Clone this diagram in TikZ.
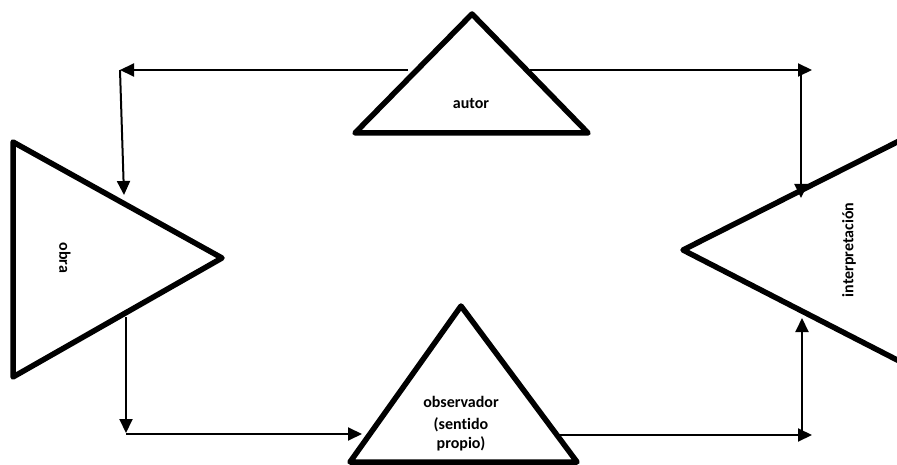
\documentclass[tikz,border=0pt]{standalone}
\usepackage{fontspec}
\setmainfont{Carlito}[Ligatures=NoCommon]
\usetikzlibrary{calc,arrows.meta}

\begin{document}
\begin{tikzpicture}[x=1pt,y=-1pt]
        % Looks of the triangles, the arrows and the labels
        \tikzset{
            tri/.style={line width=5.5pt, line join=round, line cap=round},
            conn/.style={line width=2pt, -{Triangle[length=14pt,width=13pt]}},
            lbl/.style={font=\fontsize{16}{19}\selectfont\bfseries, align=center},
        }
        \useasboundingbox (0,0) rectangle (897,465);

        % Corners of the four triangles
        \begin{scope}
            % autor
            \coordinate (A1) at (472, 14);
            \coordinate (A2) at (355, 133);
            \coordinate (A3) at (588, 133);
            % obra
            \coordinate (O1) at (13, 142);
            \coordinate (O2) at (13, 377);
            \coordinate (O3) at (222, 258);
            % observador
            \coordinate (S1) at (461, 306);
            \coordinate (S2) at (350, 462);
            \coordinate (S3) at (577, 462);
            % interpretacion, cut by the right border
            \coordinate (I1) at (683, 250);
            \coordinate (I2) at (905, 138);
            \coordinate (I3) at (905, 364);

            % Ends and corners of the connectors
            \coordinate (P1) at (408, 70);
            \coordinate (P2) at (120, 70);
            \coordinate (P3) at (124, 195);
            \coordinate (P4) at (530, 70);
            \coordinate (P5) at (812, 70);
            \coordinate (P6) at (801, 71);
            \coordinate (P7) at (801, 198);

            \coordinate (Q1) at (126, 317);
            \coordinate (Q2) at (126, 433);
            \coordinate (Q3) at (126, 434);
            \coordinate (Q4) at (362, 434);
            \coordinate (Q5) at (557, 435);
            \coordinate (Q6) at (812, 435);
            \coordinate (Q7) at (802, 435);
            \coordinate (Q8) at (802, 318);
        \end{scope}

        \begin{scope}[tri]
            \draw (A1) -- (A2) -- (A3) -- cycle;
            \draw (O1) -- (O2) -- (O3) -- cycle;
            \draw (S1) -- (S2) -- (S3) -- cycle;
            \draw (I2) -- (I1) -- (I3);
        \end{scope}

        \begin{scope}[conn]
            \draw (P1) -- (P2);
            \draw (P2) -- (P3);
            \draw (P4) -- (P5);
            \draw (P6) -- (P7);

            \draw (Q1) -- (Q2);
            \draw (Q3) -- (Q4);
            \draw (Q5) -- (Q6);
            \draw (Q7) -- (Q8);
        \end{scope}

        \node[lbl] (autor) at (471, 104) {autor};
        \node[lbl, rotate=-90] (obra) at (65, 258) {obra};
        \node[lbl, rotate=90] (interp) at (849, 250) {interpretación};
        \node[lbl] (obs) at (461, 424) {observador\\[3pt](sentido\\propio)};

\end{tikzpicture}
\end{document}
